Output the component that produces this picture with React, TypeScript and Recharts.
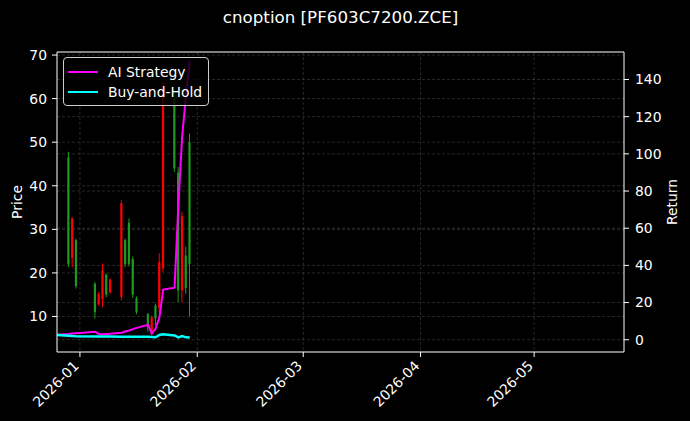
import {
  ComposedChart,
  Bar,
  Line,
  XAxis,
  YAxis,
  CartesianGrid,
  ReferenceLine,
  Legend,
} from 'recharts';

// day offsets from 2026-01-01
const days = [-6, -3, -2, -1, 4, 5, 6, 7, 8, 11, 12, 13, 14, 15, 18, 19, 20, 21, 22, 25, 26, 27, 28, 29];
const opens = [null, 22, 32.5, 17, 11, 15.2, 20.5, 15, 18.5, 36, 22, 22, 15, 11, 7.5, 9.8, 9.5, 22.5, 63, 44, 16, 33, 16.5, 22];
const highs = [null, 47.8, 32.8, 27.9, 17.9, 15.6, 22.2, 19.9, 18.7, 36.7, 27.9, 32.5, 23.8, 14.6, 10.8, 10.2, 13, 24.5, 64, 62, 44.3, 34, 26, 52];
const lows = [null, 21.3, 21.3, 16.4, 9.5, 12.5, 12.1, 14.4, 15.3, 13.7, 21.3, 21.5, 14.2, 10.5, 6.5, 5.8, 8, 11, 20.2, 43.2, 13.3, 13.3, 15.2, 10];
const closes = [null, 46.5, 23.5, 27.5, 17.5, 12.8, 14, 19.5, 15.5, 14.5, 27.5, 31.5, 23.2, 14.2, 10.5, 6.5, 12.5, 12, 21, 60, 43, 16, 24, 50];
const aiReturn = [2.7, 3.1, 3.3, 3.5, 4.3, 3.0, 3.0, 3.1, 3.2, 3.8, 4.4, 5.0, 5.7, 6.4, 8.0, 3.3, 6.0, 12, 27, 28, 72, 109, 131, 150];
const bhReturn = [2.5, 2.1, 2.0, 1.9, 1.8, 1.8, 1.7, 1.7, 1.7, 1.6, 1.6, 1.6, 1.6, 1.6, 1.6, 1.5, 1.3, 2.6, 3.0, 2.3, 1.3, 2.0, 1.3, 1.2];

const tickDays = [0, 31, 59, 90, 120];
const tickLabels = ['2026-01', '2026-02', '2026-03', '2026-04', '2026-05'];
const priceTicks = [10, 20, 30, 40, 50, 60, 70];
const returnTicks = [0, 20, 40, 60, 80, 100, 120, 140];

const data = days.map((d, i) => ({
  day: d,
  open: opens[i],
  high: highs[i],
  low: lows[i],
  close: closes[i],
  ai: aiReturn[i],
  bh: bhReturn[i],
}));

const FONT = '"DejaVu Sans", sans-serif';
const UP = '#1f9a1f';
const DOWN = '#ff0000';

const Candle = (props: any) => {
  const { x, y, width, height, payload } = props;
  if (payload.low == null) return null;
  const top = Math.min(y, y + height);
  const h = Math.abs(height);
  const range = payload.high - payload.low || 1;
  const k = h / range;
  const cx = x + width / 2;
  const up = payload.close >= payload.open;
  const color = up ? UP : DOWN;
  const bTop = top + (payload.high - Math.max(payload.open, payload.close)) * k;
  const bBot = top + (payload.high - Math.min(payload.open, payload.close)) * k;
  return (
    <g>
      <line x1={cx} x2={cx} y1={top} y2={top + h} stroke={color} strokeWidth={1} />
      <rect x={cx - 1.1} y={bTop} width={2.2} height={Math.max(bBot - bTop, 0.8)} fill={color} />
    </g>
  );
};

const XTick = (props: any) => {
  const { x, y, payload } = props;
  const i = tickDays.indexOf(payload.value);
  return (
    <text
      transform={`translate(${x - 3},${y + 4}) rotate(-45)`}
      textAnchor="end"
      dominantBaseline="middle"
      fill="#fff"
      fontSize={13.9}
      fontFamily={FONT}
    >
      {i >= 0 ? tickLabels[i] : ''}
    </text>
  );
};

const LegendBox = () => (
  <div
    style={{
      background: 'rgba(0,0,0,0.8)',
      border: '1px solid #ccc',
      borderRadius: 4,
      padding: '4px 6px 3px 4px',
      fontFamily: FONT,
      fontSize: 13.9,
      color: '#fff',
      lineHeight: '20px',
    }}
  >
    {[
      ['AI Strategy', '#ff00ff'],
      ['Buy-and-Hold', '#00ffff'],
    ].map(([name, color]) => (
      <div key={name} style={{ display: 'flex', alignItems: 'center' }}>
        <span style={{ display: 'inline-block', width: 30, height: 2.5, background: color, marginRight: 10 }} />
        <span>{name}</span>
      </div>
    ))}
  </div>
);

export default function App() {
  return (
    <div style={{ position: 'relative', width: 690, height: 421, background: '#000', fontFamily: FONT }}>
      <style>{'body{margin:0;background:#000}'}</style>
      <div
        style={{
          position: 'absolute',
          top: 7,
          left: 0,
          width: 681,
          textAlign: 'center',
          color: '#fff',
          fontSize: 16.7,
          fontFamily: FONT,
          zIndex: 2,
        }}
      >
        cnoption [PF603C7200.ZCE]
      </div>
      <ComposedChart width={690} height={421} data={data} margin={{ top: 52, right: 6, bottom: 0, left: 7 }}>
        <CartesianGrid
          yAxisId="price"
          stroke="#777"
          strokeOpacity={0.55}
          strokeDasharray="3 2"
          strokeWidth={0.6}
          horizontalValues={priceTicks}
          verticalValues={tickDays}
        />
        <CartesianGrid
          yAxisId="ret"
          stroke="#777"
          strokeOpacity={0.55}
          strokeDasharray="3 2"
          strokeWidth={0.6}
          vertical={false}
          horizontalValues={returnTicks}
        />
        <XAxis
          dataKey="day"
          type="number"
          domain={[-6.06, 143.75]}
          ticks={tickDays}
          allowDataOverflow
          height={69}
          stroke="#fff"
          tickSize={5}
          tickMargin={3}
          tick={<XTick />}
        />
        <YAxis
          yAxisId="price"
          orientation="left"
          domain={[1.85, 70.7]}
          ticks={priceTicks}
          allowDataOverflow
          width={50}
          stroke="#fff"
          tickSize={5}
          tickMargin={5}
          tick={{ fill: '#fff', fontSize: 13.9, fontFamily: FONT }}
          label={{ value: 'Price', angle: -90, position: 'center', dx: -15, fill: '#fff', fontSize: 13.9, fontFamily: FONT }}
        />
        <YAxis
          yAxisId="ret"
          orientation="right"
          domain={[-6.6, 154.8]}
          ticks={returnTicks}
          allowDataOverflow
          width={60}
          stroke="#fff"
          tickSize={5}
          tickMargin={6}
          tick={{ fill: '#fff', fontSize: 13.9, fontFamily: FONT, textAnchor: 'start' }}
          label={{ value: 'Return', angle: -90, position: 'center', dx: 18, fill: '#fff', fontSize: 13.9, fontFamily: FONT }}
        />
        <ReferenceLine yAxisId="price" y={70.7} stroke="#fff" strokeWidth={1} ifOverflow="visible" />
        <Bar
          yAxisId="price"
          dataKey={(d: any) => (d.low == null ? null : [d.low, d.high])}
          barSize={4}
          shape={<Candle />}
          isAnimationActive={false}
          legendType="none"
        />
        <Line
          yAxisId="ret"
          dataKey="ai"
          name="AI Strategy"
          stroke="#ff00ff"
          strokeWidth={2}
          dot={false}
          isAnimationActive={false}
        />
        <Line
          yAxisId="ret"
          dataKey="bh"
          name="Buy-and-Hold"
          stroke="#00ffff"
          strokeWidth={2.5}
          dot={false}
          isAnimationActive={false}
        />
        <Legend
          layout="vertical"
          align="center"
          verticalAlign="middle"
          content={<LegendBox />}
          wrapperStyle={{ position: 'absolute', top: 57, left: 63, width: 'auto' }}
        />
      </ComposedChart>
    </div>
  );
}
